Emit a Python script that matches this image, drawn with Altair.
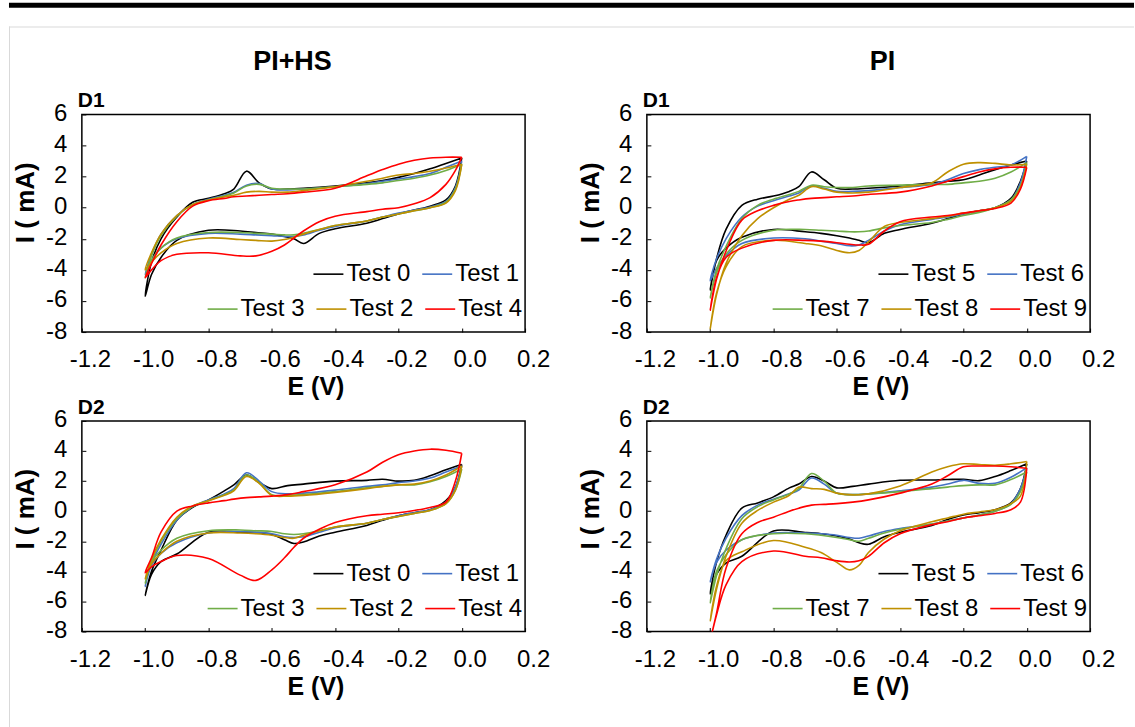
import altair as alt
import pandas as pd

# ---------------- data ----------------
E_DOWN = [0.0, -0.02, -0.05, -0.1, -0.15, -0.2, -0.25, -0.3, -0.4, -0.45, -0.5,
          -0.53, -0.56, -0.6, -0.65, -0.7, -0.8, -0.9, -0.95, -0.98, -1.0]
E_UP = [-1.0, -0.98, -0.95, -0.9, -0.85, -0.8, -0.75, -0.72, -0.68, -0.64, -0.6,
        -0.55, -0.5, -0.4, -0.3, -0.25, -0.2, -0.15, -0.1, -0.05, 0.0]

X_TICKS = [-1.2, -1.0, -0.8, -0.6, -0.4, -0.2, 0.0, 0.2]
Y_TICKS = [-8, -6, -4, -2, 0, 2, 4, 6]

COLUMN_TITLES = ["PI+HS", "PI"]
ROW_LABELS = ["D1", "D2"]

# PI+HS, D1
HSD1_T0_DN = [3.2, 1.4, 0.5, 0.1, -0.15, -0.4, -0.7, -1.0, -1.35, -1.65, -2.3, -2.0, -1.85, -1.7, -1.6, -1.5, -1.45, -2.1, -3.2, -4.3, -5.7]
HSD1_T0_UP = [-5.7, -3.5, -2.0, -0.6, 0.35, 0.6, 0.9, 1.2, 2.35, 1.6, 1.2, 1.2, 1.25, 1.4, 1.6, 1.75, 1.95, 2.2, 2.5, 2.85, 3.2]
HSD1_T1_DN = [3.0, 1.3, 0.4, 0.05, -0.15, -0.35, -0.6, -0.85, -1.2, -1.45, -1.75, -1.85, -1.85, -1.8, -1.75, -1.7, -1.65, -2.0, -2.6, -3.4, -4.3]
HSD1_T1_UP = [-4.3, -3.0, -1.7, -0.5, 0.2, 0.55, 0.8, 1.0, 1.45, 1.55, 1.2, 1.15, 1.2, 1.35, 1.55, 1.7, 1.85, 2.0, 2.2, 2.6, 3.0]
HSD1_T3_DN = [2.8, 1.2, 0.35, 0.0, -0.2, -0.4, -0.6, -0.85, -1.15, -1.4, -1.65, -1.75, -1.75, -1.7, -1.65, -1.6, -1.6, -1.95, -2.6, -3.4, -4.5]
HSD1_T3_UP = [-4.5, -3.1, -1.8, -0.55, 0.2, 0.5, 0.75, 0.95, 1.4, 1.5, 1.25, 1.2, 1.2, 1.35, 1.5, 1.6, 1.75, 1.9, 2.1, 2.4, 2.8]
HSD1_T2_DN = [2.8, 1.1, 0.3, 0.0, -0.2, -0.4, -0.6, -0.85, -1.15, -1.4, -1.7, -1.9, -2.05, -2.15, -2.1, -2.05, -1.95, -2.3, -2.9, -3.5, -4.0]
HSD1_T2_UP = [-4.0, -2.9, -1.7, -0.5, 0.2, 0.5, 0.7, 0.8, 1.0, 1.05, 1.0, 1.0, 1.1, 1.35, 1.7, 1.9, 2.1, 2.2, 2.35, 2.55, 2.8]
HSD1_T4_DN = [3.25, 2.4, 1.5, 0.65, 0.25, 0.0, -0.1, -0.25, -0.55, -0.9, -1.5, -1.95, -2.4, -2.8, -3.1, -3.1, -2.9, -3.0, -3.4, -4.0, -4.5]
HSD1_T4_UP = [-4.5, -3.6, -2.4, -0.9, 0.1, 0.45, 0.6, 0.7, 0.75, 0.8, 0.85, 0.9, 1.0, 1.25, 2.05, 2.45, 2.8, 3.05, 3.2, 3.25, 3.25]

# PI, D1
PID1_T5_DN = [3.0, 1.7, 0.6, 0.0, -0.2, -0.4, -0.7, -1.0, -1.4, -1.65, -2.25, -2.1, -1.95, -1.8, -1.65, -1.55, -1.4, -1.9, -2.6, -3.4, -5.3]
PID1_T5_UP = [-5.3, -3.3, -1.4, 0.15, 0.55, 0.75, 1.05, 1.35, 2.3, 1.8, 1.25, 1.2, 1.25, 1.4, 1.6, 1.7, 1.8, 2.1, 2.45, 2.75, 3.0]
PID1_T6_DN = [3.3, 1.6, 0.5, 0.0, -0.2, -0.4, -0.6, -0.75, -1.1, -1.5, -2.1, -2.4, -2.45, -2.3, -2.15, -2.0, -1.95, -2.3, -3.1, -3.9, -4.7]
PID1_T6_UP = [-4.7, -3.3, -2.0, -0.6, 0.1, 0.45, 0.75, 0.95, 1.4, 1.25, 1.05, 1.05, 1.1, 1.3, 1.5, 1.8, 2.2, 2.45, 2.6, 2.75, 3.3]
PID1_T7_DN = [2.9, 1.4, 0.5, 0.0, -0.3, -0.5, -0.75, -0.95, -1.15, -1.3, -1.5, -1.55, -1.55, -1.5, -1.45, -1.4, -1.45, -2.1, -3.0, -4.2, -5.8]
PID1_T7_UP = [-5.8, -4.0, -2.5, -0.7, 0.15, 0.55, 0.85, 1.05, 1.45, 1.35, 1.3, 1.3, 1.4, 1.45, 1.5, 1.5, 1.6, 1.7, 1.9, 2.3, 2.9]
PID1_T8_DN = [2.8, 1.3, 0.4, 0.0, -0.2, -0.35, -0.55, -0.7, -0.95, -1.2, -2.2, -2.75, -2.9, -2.75, -2.45, -2.3, -2.1, -2.5, -3.8, -5.5, -7.8]
PID1_T8_UP = [-7.8, -5.6, -3.6, -1.8, -0.7, 0.0, 0.55, 0.8, 1.35, 1.2, 1.0, 0.95, 1.0, 1.3, 1.6, 2.3, 2.8, 2.9, 2.85, 2.75, 2.8]
PID1_T9_DN = [2.6, 1.2, 0.3, -0.05, -0.2, -0.35, -0.5, -0.6, -0.9, -1.5, -2.35, -2.4, -2.35, -2.25, -2.15, -2.1, -2.1, -2.6, -3.2, -4.5, -6.6]
PID1_T9_UP = [-6.6, -4.6, -2.8, -0.8, -0.2, 0.15, 0.4, 0.5, 0.6, 0.65, 0.7, 0.75, 0.85, 1.0, 1.4, 1.7, 2.0, 2.3, 2.5, 2.6, 2.6]

# PI+HS, D2
HSD2_T0_DN = [3.1, 1.6, 0.7, 0.1, -0.1, -0.3, -0.6, -0.95, -1.4, -1.65, -2.05, -2.15, -1.9, -1.55, -1.42, -1.4, -1.4, -2.85, -3.35, -4.2, -5.6]
HSD2_T0_UP = [-5.6, -4.0, -2.6, -0.6, 0.25, 0.75, 1.35, 1.75, 2.4, 1.9, 1.5, 1.7, 1.8, 2.0, 2.05, 2.12, 2.0, 2.05, 2.35, 2.75, 3.1]
HSD2_T1_DN = [3.0, 1.6, 0.6, 0.1, -0.1, -0.3, -0.55, -0.8, -1.1, -1.4, -1.7, -1.75, -1.7, -1.5, -1.4, -1.35, -1.45, -2.1, -2.8, -3.6, -5.0]
HSD2_T1_UP = [-5.0, -3.5, -2.2, -0.6, 0.3, 0.75, 1.15, 1.5, 2.55, 2.0, 1.3, 1.15, 1.2, 1.4, 1.65, 1.75, 1.9, 2.0, 2.2, 2.6, 3.0]
HSD2_T3_DN = [2.8, 1.4, 0.5, 0.05, -0.15, -0.35, -0.55, -0.8, -1.05, -1.3, -1.5, -1.55, -1.5, -1.35, -1.3, -1.25, -1.3, -1.8, -2.6, -3.4, -4.8]
HSD2_T3_UP = [-4.8, -3.3, -2.0, -0.5, 0.3, 0.7, 1.1, 1.4, 2.4, 1.9, 1.1, 1.05, 1.1, 1.3, 1.55, 1.65, 1.75, 1.75, 1.95, 2.3, 2.8]
HSD2_T2_DN = [3.0, 1.4, 0.5, 0.05, -0.15, -0.35, -0.55, -0.8, -1.05, -1.3, -1.6, -1.8, -1.75, -1.6, -1.5, -1.45, -1.45, -2.0, -2.8, -3.5, -4.5]
HSD2_T2_UP = [-4.5, -3.2, -1.9, -0.4, 0.35, 0.7, 1.05, 1.35, 2.3, 1.85, 1.05, 1.0, 1.05, 1.25, 1.5, 1.65, 1.75, 1.8, 2.0, 2.4, 3.0]
HSD2_T4_DN = [3.85, 2.0, 0.6, 0.25, 0.05, -0.1, -0.2, -0.3, -0.75, -1.2, -1.8, -2.4, -3.1, -3.9, -4.6, -4.25, -3.15, -2.95, -3.35, -3.7, -4.1]
HSD2_T4_UP = [-4.1, -3.1, -1.4, 0.0, 0.35, 0.55, 0.7, 0.8, 0.9, 0.95, 1.0, 1.1, 1.3, 1.75, 2.6, 3.25, 3.75, 4.0, 4.12, 4.05, 3.85]

# PI, D2
PID2_T5_DN = [3.15, 1.5, 0.55, 0.1, -0.1, -0.25, -0.55, -0.95, -1.4, -1.7, -2.2, -2.1, -1.85, -1.65, -1.5, -1.42, -1.32, -3.0, -3.45, -4.2, -5.5]
PID2_T5_UP = [-5.5, -3.4, -1.6, 0.2, 0.55, 0.95, 1.55, 1.8, 2.3, 2.0, 1.55, 1.65, 1.8, 2.05, 2.07, 2.1, 2.12, 2.03, 2.3, 2.7, 3.15]
PID2_T6_DN = [2.9, 1.5, 0.5, 0.0, -0.25, -0.45, -0.65, -0.85, -1.15, -1.35, -1.65, -1.8, -1.75, -1.6, -1.5, -1.45, -1.45, -1.9, -2.6, -3.4, -4.7]
PID2_T6_UP = [-4.7, -3.2, -1.8, -0.3, 0.4, 0.8, 1.15, 1.4, 2.2, 1.8, 1.2, 1.1, 1.15, 1.35, 1.6, 1.8, 2.05, 1.85, 1.85, 2.25, 2.9]
PID2_T7_DN = [2.6, 1.3, 0.45, 0.0, -0.25, -0.45, -0.65, -0.85, -1.2, -1.45, -1.8, -2.0, -1.9, -1.75, -1.6, -1.5, -1.5, -1.9, -2.9, -4.0, -6.1]
PID2_T7_UP = [-6.1, -4.3, -2.5, -0.5, 0.3, 0.75, 1.15, 1.5, 2.5, 2.0, 1.2, 1.1, 1.15, 1.3, 1.5, 1.6, 1.7, 1.75, 1.75, 2.1, 2.6]
PID2_T8_DN = [3.3, 1.0, 0.5, 0.1, -0.05, -0.2, -0.45, -0.7, -1.3, -1.85, -2.75, -3.6, -3.9, -3.4, -2.75, -2.4, -1.95, -2.7, -3.3, -5.0, -7.3]
PID2_T8_UP = [-7.3, -5.2, -3.0, -0.8, 0.05, 0.6, 1.05, 1.6, 1.5, 1.45, 1.2, 1.08, 1.15, 1.68, 2.6, 2.95, 3.15, 3.1, 3.05, 3.15, 3.3]
PID2_T9_DN = [2.85, 0.6, 0.1, -0.15, -0.3, -0.45, -0.7, -0.9, -1.5, -2.1, -3.0, -3.3, -3.38, -3.3, -3.1, -3.0, -2.65, -3.35, -4.9, -6.9, -8.6]
PID2_T9_UP = [-8.6, -6.8, -3.8, -1.5, -0.75, -0.4, 0.0, 0.2, 0.4, 0.45, 0.5, 0.6, 0.75, 1.2, 1.8, 2.35, 2.95, 3.0, 3.0, 2.95, 2.85]

BLACK, BLUE, GREEN, GOLD, RED = "#000000", "#4472C4", "#70AD47", "#BF9000", "#FF0000"
COLORS = {"Test 0": BLACK, "Test 1": BLUE, "Test 3": GREEN, "Test 2": GOLD, "Test 4": RED,
          "Test 5": BLACK, "Test 6": BLUE, "Test 7": GREEN, "Test 8": GOLD, "Test 9": RED}

HSD1 = {"Test 0": (HSD1_T0_DN, HSD1_T0_UP), "Test 1": (HSD1_T1_DN, HSD1_T1_UP),
        "Test 3": (HSD1_T3_DN, HSD1_T3_UP), "Test 2": (HSD1_T2_DN, HSD1_T2_UP),
        "Test 4": (HSD1_T4_DN, HSD1_T4_UP)}
PID1 = {"Test 5": (PID1_T5_DN, PID1_T5_UP), "Test 6": (PID1_T6_DN, PID1_T6_UP),
        "Test 7": (PID1_T7_DN, PID1_T7_UP), "Test 8": (PID1_T8_DN, PID1_T8_UP),
        "Test 9": (PID1_T9_DN, PID1_T9_UP)}
HSD2 = {"Test 0": (HSD2_T0_DN, HSD2_T0_UP), "Test 1": (HSD2_T1_DN, HSD2_T1_UP),
        "Test 3": (HSD2_T3_DN, HSD2_T3_UP), "Test 2": (HSD2_T2_DN, HSD2_T2_UP),
        "Test 4": (HSD2_T4_DN, HSD2_T4_UP)}
PID2 = {"Test 5": (PID2_T5_DN, PID2_T5_UP), "Test 6": (PID2_T6_DN, PID2_T6_UP),
        "Test 7": (PID2_T7_DN, PID2_T7_UP), "Test 8": (PID2_T8_DN, PID2_T8_UP),
        "Test 9": (PID2_T9_DN, PID2_T9_UP)}

HS_ROW1, HS_ROW2 = ["Test 0", "Test 1"], ["Test 3", "Test 2", "Test 4"]
PI_ROW1, PI_ROW2 = ["Test 5", "Test 6"], ["Test 7", "Test 8", "Test 9"]

# ---------------- layout ----------------
FONT = "Liberation Sans"
W = 444
H_TOP, H_BOT = 218, 211
XS = alt.Scale(domain=[-1.2, 0.2], nice=False, zero=False)
YS = alt.Scale(domain=[-8, 6], nice=False, zero=False)


def loop_df(names, series):
    rows = []
    for n in names:
        dn, up = series[n]
        pts = list(zip(E_DOWN, dn)) + list(zip(E_UP, up))[1:]
        for i, (e, c) in enumerate(pts):
            rows.append({"series": n, "E": e, "I": c, "idx": i})
    return pd.DataFrame(rows)


def x_axis():
    return alt.Axis(values=X_TICKS, title="E (V)", offset=-4, tickSize=4, domain=False, grid=False,
                    labelExpr="(datum.value < -0.001 ? '-' : '') + format(abs(datum.value), '.1f')",
                    labelFlush=False, labelOverlap=False, labelBaseline="alphabetic",
                    labelPadding=35, labelOffset=8,
                    titleX=234, titleY=67, titleBaseline="alphabetic", titleAlign="center",
                    titleFontSize=25)


def y_axis():
    return alt.Axis(values=Y_TICKS, title="I ( mA)", offset=-4, tickSize=4, domain=False, grid=False,
                    labelExpr="(datum.value < 0 ? '-' : '') + format(abs(datum.value), 'd')",
                    labelFlush=False, labelOverlap=False, labelPadding=15, labelOffset=-1,
                    titleX=-52, titleY=88, titleAngle=270, titleBaseline="alphabetic",
                    titleAlign="center", titleFontSize=26)


ONE = pd.DataFrame({"k": [0]})


def rect(x1, x2, y1, y2, color):
    return alt.Chart(ONE).mark_rect(color=color).encode(
        x=alt.value(x1), x2=alt.value(x2), y=alt.value(y1), y2=alt.value(y2))


def panel(series, row1, row2, h, dlabel, col_title=None, col_x=0, deco=False):
    layers = []
    if deco:
        layers += [
            rect(-81, -80, -113, -112, "white"),
            rect(-73, 1054, -112, -107, "black"),
            rect(-73, 1054, -88, -87, "#d9d9d9"),
            rect(-73, -72, -88, 614, "#d9d9d9"),
        ]
    for names, ly, lx in ((row1, h - 74, 231), (row2, h - 39, 125)):
        df = loop_df(names, series)
        layers.append(
            alt.Chart(df).mark_line(strokeWidth=1.6, interpolate="catmull-rom", clip=True).encode(
                x=alt.X("E:Q", scale=XS, axis=x_axis()),
                y=alt.Y("I:Q", scale=YS, axis=y_axis()),
                color=alt.Color("series:N",
                                scale=alt.Scale(domain=names, range=[COLORS[n] for n in names]),
                                legend=alt.Legend(orient="none", legendX=lx, legendY=ly,
                                                  direction="horizontal", columns=len(names),
                                                  title=None, symbolType="stroke", symbolSize=900,
                                                  symbolStrokeWidth=1.6, labelFontSize=24,
                                                  labelFont=FONT, labelOffset=2, columnPadding=7,
                                                  padding=0, labelLimit=500, labelColor="black")),
                order=alt.Order("idx:Q"),
            )
        )
    layers.append(
        alt.Chart(ONE).mark_text(text=dlabel, align="left", baseline="alphabetic", font=FONT,
                                 fontSize=21, fontWeight="bold", color="black")
        .encode(x=alt.value(-4), y=alt.value(-7)))
    if col_title:
        layers.append(
            alt.Chart(ONE).mark_text(text=col_title, align="center", baseline="alphabetic",
                                     font=FONT, fontSize=27, fontWeight="bold", color="black")
            .encode(x=alt.value(col_x), y=alt.value(-45)))
    return alt.layer(*layers).resolve_scale(color="independent").properties(width=W, height=h)


tl = panel(HSD1, HS_ROW1, HS_ROW2, H_TOP, ROW_LABELS[0], COLUMN_TITLES[0], 211, deco=True)
tr = panel(PID1, PI_ROW1, PI_ROW2, H_TOP, ROW_LABELS[0], COLUMN_TITLES[1], 236)
bl = panel(HSD2, HS_ROW1, HS_ROW2, H_BOT, ROW_LABELS[1])
br = panel(PID2, PI_ROW1, PI_ROW2, H_BOT, ROW_LABELS[1])

chart = (
    alt.concat(tl, tr, bl, br, columns=2, spacing={"row": 89, "column": 122}, bounds="flush")
    .resolve_scale(color="independent")
    .properties(padding=0, autosize=alt.AutoSizeParams(type="pad"))
    .configure(background="white")
    .configure_view(stroke="black", strokeWidth=1.5)
    .configure_axis(labelFont=FONT, labelFontSize=24, labelColor="black",
                    titleFont=FONT, titleFontWeight="bold", titleColor="black",
                    tickColor="black", tickWidth=1)
)

chart.save("out.html", embed_options={"renderer": "svg", "actions": False})
